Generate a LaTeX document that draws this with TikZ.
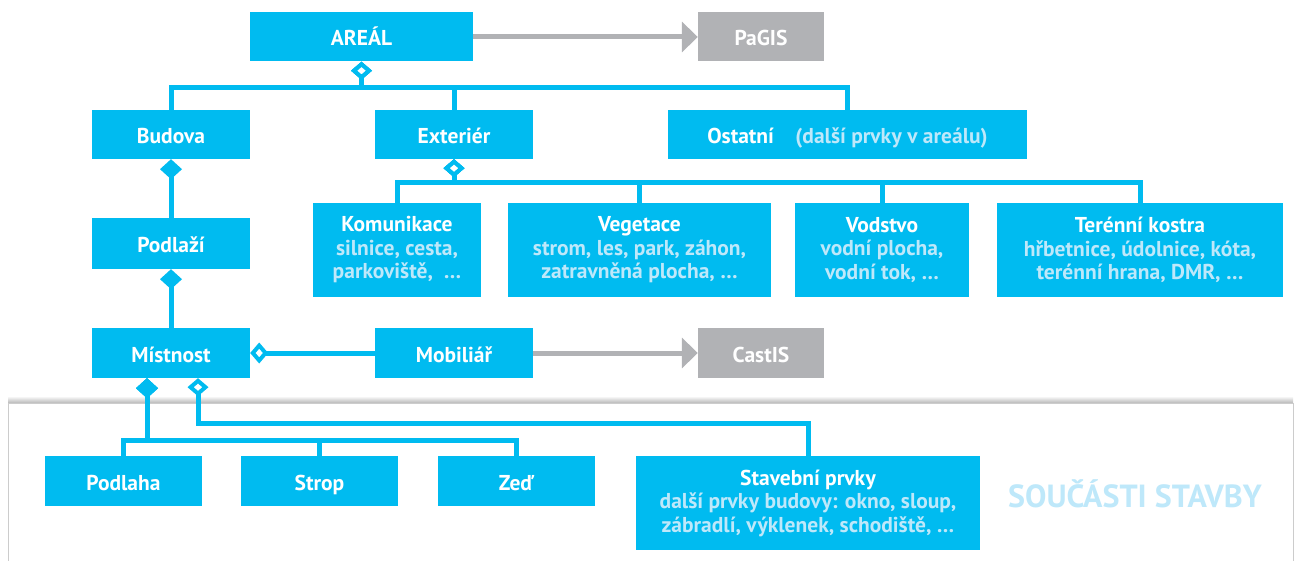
\documentclass[tikz,border=0pt]{standalone}
\usepackage{fontspec}
\setmainfont{PT Sans}
\usetikzlibrary{arrows.meta}
\definecolor{modra}{RGB}{0,187,240}
\definecolor{seda}{RGB}{177,178,181}
\definecolor{svetla}{RGB}{190,232,250}
\newcommand{\pozn}[1]{{\color{svetla}#1}}

\begin{document}
\begin{tikzpicture}[x=1pt,y=-1pt,
  zaklad/.style={fill=modra,text=white,inner sep=0pt,align=center,
    font=\bfseries\fontsize{21.5}{23.5}\selectfont},
  box/.style={zaklad,minimum height=49pt,text height=19pt,text depth=1pt},
  vice/.style={zaklad,minimum height=94pt},
  sys/.style={box,fill=seda},
  spoj/.style={draw=modra,line width=5pt},
  agr/.style={spoj,{Diamond[open,fill=white,length=18pt,width=21pt,line width=4pt]}-},
  komp/.style={spoj,{Diamond[length=20pt,width=22pt]}-},
  tok/.style={draw=seda,line width=5pt,-{Triangle[length=16pt,width=30pt]}}]
\useasboundingbox (0,0) rectangle (1295,561);
% ramecek soucasti stavby
\shade[top color=white,bottom color=black!28] (8,396) rectangle (1293,403);
\filldraw[fill=white,draw=black!20,line width=1pt] (8,403) rectangle (1293,575);
\node[font=\bfseries\fontsize{32}{34}\selectfont,text=svetla] (soucasti) at (1135,494) {SOUČÁSTI STAVBY};
% horni uroven
\node[box,minimum width=223pt] (areal) at (361.5,37) {AREÁL};
\node[sys,minimum width=126pt] (pagis) at (761,37) {PaGIS};
\node[box,minimum width=158pt] (budova) at (171,134.5) {Budova};
\node[box,minimum width=158pt] (exterier) at (454,134.5) {Exteriér};
\node[box,minimum width=359pt] (ostatni) at (847.5,134.5) {Ostatní\quad\pozn{(další prvky v areálu)}};
% exterier
\node[vice,minimum width=168pt] (komunikace) at (397,250) {Komunikace\\\pozn{silnice, cesta,}\\\pozn{parkoviště,~~…}};
\node[vice,minimum width=263pt] (vegetace) at (639.5,250) {Vegetace\\\pozn{strom, les, park, záhon,}\\\pozn{zatravněná plocha, …}};
\node[vice,minimum width=174pt] (vodstvo) at (882,250) {Vodstvo\\\pozn{vodní plocha,}\\\pozn{vodní tok, …}};
\node[vice,minimum width=286pt] (teren) at (1140,250) {Terénní kostra\\\pozn{hřbetnice, údolnice, kóta,}\\\pozn{terénní hrana, DMR, …}};
% budova
\node[box,minimum width=158pt,minimum height=51pt] (podlazi) at (171,243.5) {Podlaží};
\node[box,minimum width=158pt,minimum height=50pt] (mistnost) at (171,353) {Místnost};
\node[box,minimum width=158pt,minimum height=50pt] (mobiliar) at (454,353) {Mobiliář};
\node[sys,minimum width=126pt,minimum height=50pt] (castis) at (761,353) {CastIS};
% soucasti
\node[box,minimum width=157pt,minimum height=50pt] (podlaha) at (123.5,481) {Podlaha};
\node[box,minimum width=157pt,minimum height=50pt] (strop) at (319.5,481) {Strop};
\node[box,minimum width=157pt,minimum height=50pt] (zed) at (516.5,481) {Zeď};
\node[vice,minimum width=344pt] (stavebni) at (808,503) {Stavební prvky\\\pozn{další prvky budovy: okno, sloup,}\\\pozn{zábradlí, výklenek, schodiště, …}};
% spoje
\draw[tok] (areal) -- (pagis);
\draw[tok] (mobiliar) -- (castis);
\foreach \n in {budova,exterier,ostatni}
  \draw[agr] (areal.south) -- ++(0,26) -| (\n.north);
\foreach \n in {komunikace,vegetace,vodstvo,teren}
  \draw[agr] (exterier.south) -- ++(0,23) -| (\n.north);
\draw[komp] (budova) -- (podlazi);
\draw[komp] (podlazi) -- (mistnost);
\draw[agr] (mistnost) -- (mobiliar);
\foreach \n in {podlaha,strop,zed}
  \draw[komp] ([xshift=-24pt]mistnost.south) -- ++(0,62) -| (\n.north);
\draw[agr] ([xshift=27pt]mistnost.south) -- ++(0,45) -| (stavebni.north);
\end{tikzpicture}
\end{document}
